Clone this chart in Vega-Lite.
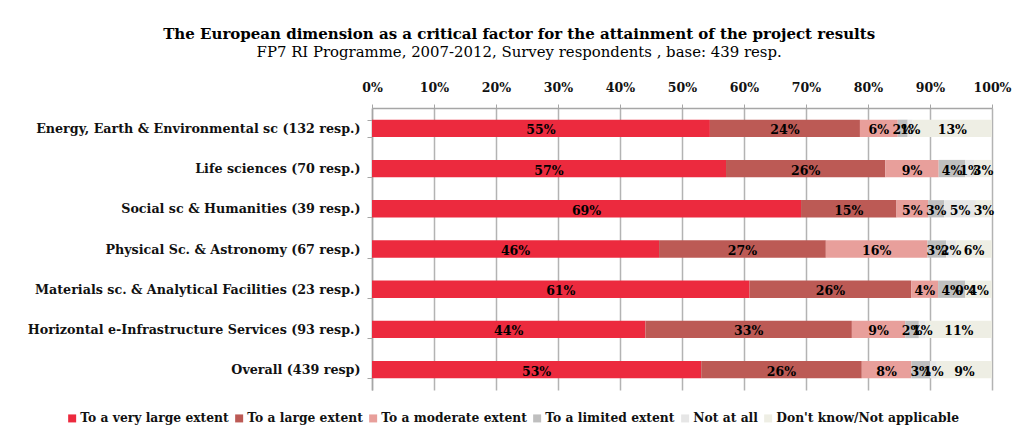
{
  "$schema": "https://vega.github.io/schema/vega-lite/v6.json",
  "autosize": "none",
  "width": 620,
  "height": 282,
  "padding": {"left": 372, "top": 108, "right": 20, "bottom": 40},
  "background": "white",
  "title": {
    "text": "The European dimension as a critical factor for the attainment of the project results",
    "subtitle": "FP7 RI Programme,  2007-2012, Survey respondents , base: 439 resp.",
    "anchor": "middle",
    "frame": "bounds",
    "font": "DejaVu Serif",
    "fontSize": 15,
    "fontWeight": "bold",
    "color": "#000000",
    "subtitleFont": "DejaVu Serif",
    "subtitleFontSize": 14.9,
    "subtitleColor": "#000000",
    "subtitlePadding": 3,
    "offset": 21
  },
  "data": {
    "values": [
      {"cat": "Energy, Earth & Environmental sc (132 resp.)", "row": 1, "k": 1, "answer": "To a very large extent", "value": 0.545},
      {"cat": "Energy, Earth & Environmental sc (132 resp.)", "row": 1, "k": 2, "answer": "To a large extent", "value": 0.242},
      {"cat": "Energy, Earth & Environmental sc (132 resp.)", "row": 1, "k": 3, "answer": "To a moderate extent", "value": 0.061},
      {"cat": "Energy, Earth & Environmental sc (132 resp.)", "row": 1, "k": 4, "answer": "To a limited extent", "value": 0.016},
      {"cat": "Energy, Earth & Environmental sc (132 resp.)", "row": 1, "k": 5, "answer": "Not at all", "value": 0.008},
      {"cat": "Energy, Earth & Environmental sc (132 resp.)", "row": 1, "k": 6, "answer": "Don't know/Not applicable", "value": 0.128},
      {"cat": "Life sciences (70 resp.)", "row": 2, "k": 1, "answer": "To a very large extent", "value": 0.571},
      {"cat": "Life sciences (70 resp.)", "row": 2, "k": 2, "answer": "To a large extent", "value": 0.257},
      {"cat": "Life sciences (70 resp.)", "row": 2, "k": 3, "answer": "To a moderate extent", "value": 0.086},
      {"cat": "Life sciences (70 resp.)", "row": 2, "k": 4, "answer": "To a limited extent", "value": 0.043},
      {"cat": "Life sciences (70 resp.)", "row": 2, "k": 5, "answer": "Not at all", "value": 0.014},
      {"cat": "Life sciences (70 resp.)", "row": 2, "k": 6, "answer": "Don't know/Not applicable", "value": 0.029},
      {"cat": "Social sc & Humanities (39 resp.)", "row": 3, "k": 1, "answer": "To a very large extent", "value": 0.692},
      {"cat": "Social sc & Humanities (39 resp.)", "row": 3, "k": 2, "answer": "To a large extent", "value": 0.154},
      {"cat": "Social sc & Humanities (39 resp.)", "row": 3, "k": 3, "answer": "To a moderate extent", "value": 0.051},
      {"cat": "Social sc & Humanities (39 resp.)", "row": 3, "k": 4, "answer": "To a limited extent", "value": 0.026},
      {"cat": "Social sc & Humanities (39 resp.)", "row": 3, "k": 5, "answer": "Not at all", "value": 0.051},
      {"cat": "Social sc & Humanities (39 resp.)", "row": 3, "k": 6, "answer": "Don't know/Not applicable", "value": 0.026},
      {"cat": "Physical Sc. & Astronomy (67 resp.)", "row": 4, "k": 1, "answer": "To a very large extent", "value": 0.463},
      {"cat": "Physical Sc. & Astronomy (67 resp.)", "row": 4, "k": 2, "answer": "To a large extent", "value": 0.269},
      {"cat": "Physical Sc. & Astronomy (67 resp.)", "row": 4, "k": 3, "answer": "To a moderate extent", "value": 0.164},
      {"cat": "Physical Sc. & Astronomy (67 resp.)", "row": 4, "k": 4, "answer": "To a limited extent", "value": 0.03},
      {"cat": "Physical Sc. & Astronomy (67 resp.)", "row": 4, "k": 5, "answer": "Not at all", "value": 0.016},
      {"cat": "Physical Sc. & Astronomy (67 resp.)", "row": 4, "k": 6, "answer": "Don't know/Not applicable", "value": 0.058},
      {"cat": "Materials sc. & Analytical Facilities (23 resp.)", "row": 5, "k": 1, "answer": "To a very large extent", "value": 0.609},
      {"cat": "Materials sc. & Analytical Facilities (23 resp.)", "row": 5, "k": 2, "answer": "To a large extent", "value": 0.261},
      {"cat": "Materials sc. & Analytical Facilities (23 resp.)", "row": 5, "k": 3, "answer": "To a moderate extent", "value": 0.043},
      {"cat": "Materials sc. & Analytical Facilities (23 resp.)", "row": 5, "k": 4, "answer": "To a limited extent", "value": 0.044},
      {"cat": "Materials sc. & Analytical Facilities (23 resp.)", "row": 5, "k": 5, "answer": "Not at all", "value": 0.0},
      {"cat": "Materials sc. & Analytical Facilities (23 resp.)", "row": 5, "k": 6, "answer": "Don't know/Not applicable", "value": 0.043},
      {"cat": "Horizontal e-Infrastructure Services (93 resp.)", "row": 6, "k": 1, "answer": "To a very large extent", "value": 0.441},
      {"cat": "Horizontal e-Infrastructure Services (93 resp.)", "row": 6, "k": 2, "answer": "To a large extent", "value": 0.333},
      {"cat": "Horizontal e-Infrastructure Services (93 resp.)", "row": 6, "k": 3, "answer": "To a moderate extent", "value": 0.086},
      {"cat": "Horizontal e-Infrastructure Services (93 resp.)", "row": 6, "k": 4, "answer": "To a limited extent", "value": 0.022},
      {"cat": "Horizontal e-Infrastructure Services (93 resp.)", "row": 6, "k": 5, "answer": "Not at all", "value": 0.011},
      {"cat": "Horizontal e-Infrastructure Services (93 resp.)", "row": 6, "k": 6, "answer": "Don't know/Not applicable", "value": 0.107},
      {"cat": "Overall (439 resp)", "row": 7, "k": 1, "answer": "To a very large extent", "value": 0.531},
      {"cat": "Overall (439 resp)", "row": 7, "k": 2, "answer": "To a large extent", "value": 0.259},
      {"cat": "Overall (439 resp)", "row": 7, "k": 3, "answer": "To a moderate extent", "value": 0.08},
      {"cat": "Overall (439 resp)", "row": 7, "k": 4, "answer": "To a limited extent", "value": 0.03},
      {"cat": "Overall (439 resp)", "row": 7, "k": 5, "answer": "Not at all", "value": 0.011},
      {"cat": "Overall (439 resp)", "row": 7, "k": 6, "answer": "Don't know/Not applicable", "value": 0.089}
    ]
  },
  "transform": [
    {"stack": "value", "groupby": ["cat"], "sort": [{"field": "k", "order": "ascending"}], "as": ["x0", "x1"]},
    {"calculate": "(datum.x0 + datum.x1) / 2", "as": "mid"}
  ],
  "encoding": {
    "y": {
      "field": "cat",
      "type": "nominal",
      "sort": {"field": "row", "op": "min", "order": "ascending"},
      "title": null,
      "scale": {"paddingInner": 0.57, "paddingOuter": 0.29},
      "axis": {
        "labelFont": "DejaVu Serif",
        "labelFontSize": 12.7,
        "labelFontWeight": "bold",
        "labelColor": "#111111",
        "labelLimit": 400,
        "labelPadding": 7,
        "tickBand": "extent",
        "tickSize": 5,
        "tickColor": "#A6A6A6",
        "domainColor": "#A6A6A6",
        "domainWidth": 1.5,
        "grid": false
      }
    }
  },
  "layer": [
    {
      "mark": {"type": "bar"},
      "encoding": {
        "x": {
          "field": "x0",
          "type": "quantitative",
          "scale": {"domain": [0, 1], "nice": false},
          "title": null,
          "axis": {
            "orient": "top",
            "format": ".0%",
            "values": [0, 0.1, 0.2, 0.3, 0.4, 0.5, 0.6, 0.7, 0.8, 0.9, 1],
            "labelFlush": false,
            "labelFont": "DejaVu Serif",
            "labelFontSize": 12.5,
            "labelFontWeight": "bold",
            "labelColor": "#111111",
            "labelPadding": 10,
            "tickSize": 4,
            "tickColor": "#A6A6A6",
            "domainColor": "#A6A6A6",
            "domainWidth": 1.5,
            "grid": true,
            "gridColor": "#B3B3B3",
            "gridWidth": 1.5
          }
        },
        "x2": {"field": "x1"},
        "color": {
          "field": "answer",
          "type": "nominal",
          "sort": ["To a very large extent", "To a large extent", "To a moderate extent", "To a limited extent", "Not at all", "Don't know/Not applicable"],
          "scale": {
            "domain": ["To a very large extent", "To a large extent", "To a moderate extent", "To a limited extent", "Not at all", "Don't know/Not applicable"],
            "range": ["#EC2A3E", "#BC5A55", "#E89F9B", "#BFBFBF", "#E6E6E6", "#EEEEE4"]
          },
          "legend": {
            "title": null,
            "orient": "none",
            "direction": "horizontal",
            "legendX": -306,
            "legendY": 304,
            "symbolType": "square",
            "symbolSize": 64,
            "symbolStrokeWidth": 0,
            "labelFont": "DejaVu Serif",
            "labelFontSize": 12.3,
            "labelFontWeight": "bold",
            "labelColor": "#111111",
            "labelLimit": 0,
            "columnPadding": 4,
            "labelOffset": 2
          }
        }
      }
    },
    {
      "mark": {"type": "text", "font": "DejaVu Serif", "fontSize": 12.5, "fontWeight": "bold", "color": "#000000", "baseline": "middle", "dy": 2},
      "encoding": {
        "x": {"field": "mid", "type": "quantitative"},
        "text": {"field": "value", "type": "quantitative", "format": ".0%"}
      }
    }
  ],
  "config": {
    "view": {"stroke": null}
  }
}
